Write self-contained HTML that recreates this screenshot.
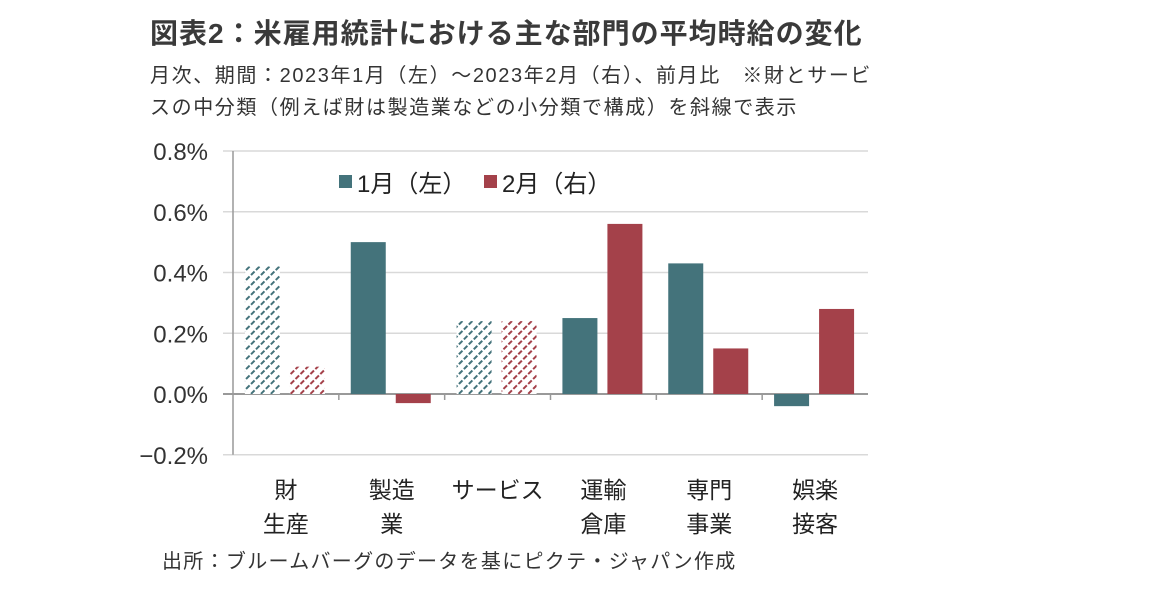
<!DOCTYPE html>
<html><head><meta charset="utf-8"><style>
body{margin:0;background:#fff;width:1152px;height:593px;overflow:hidden;font-family:"Liberation Sans","Noto Sans CJK JP",sans-serif;}
.t{position:absolute;white-space:nowrap;color:#333}
</style></head><body>
<div class="t" style="left:150px;top:12px;font-size:28px;font-weight:bold;color:#3a3a3a;letter-spacing:1px">図表2：米雇用統計における主な部門の平均時給の変化</div>
<div class="t" style="left:150px;top:60px;font-size:20px;line-height:32px;letter-spacing:1.6px">月次、期間：2023年1月（左）～2023年2月（右）、前月比　※財とサービ<br>スの中分類（例えば財は製造業などの小分類で構成）を斜線で表示</div>
<div class="t" style="left:162px;top:545px;font-size:20px;letter-spacing:1.3px">出所：ブルームバーグのデータを基にピクテ・ジャパン作成</div>
<svg id="c" width="1152" height="593" style="position:absolute;left:0;top:0">
<defs>
<pattern id="hT" width="7" height="7" patternUnits="userSpaceOnUse" patternTransform="rotate(45)"><rect width="7" height="7" fill="#fff"/><line x1="0" y1="0" x2="0" y2="7" stroke="#44737b" stroke-width="4" stroke-dasharray="3,2"/></pattern>
<pattern id="hR" width="7" height="7" patternUnits="userSpaceOnUse" patternTransform="rotate(45)"><rect width="7" height="7" fill="#fff"/><line x1="0" y1="0" x2="0" y2="7" stroke="#a4414a" stroke-width="4" stroke-dasharray="3,2"/></pattern>
</defs>
</svg>
<script>
const categories=[["財","生産"],["製造","業"],["サービス"],["運輸","倉庫"],["専門","事業"],["娯楽","接客"]];
const jan=[0.42,0.50,0.24,0.25,0.43,-0.04];
const feb=[0.09,-0.03,0.24,0.56,0.15,0.28];
const hatched=[true,false,true,false,false,false];
const ticks=[0.8,0.6,0.4,0.2,0.0,-0.2];
const tickLabels=["0.8%","0.6%","0.4%","0.2%","0.0%","−0.2%"];
const svg=document.getElementById('c');const NS='http://www.w3.org/2000/svg';
const x0=233,x1=868,cw=(x1-x0)/categories.length;
const y=v=>394-v*(394-151)/0.8;
function mk(t,a,p){const e=document.createElementNS(NS,t);for(const k in a)e.setAttribute(k,a[k]);(p||svg).appendChild(e);return e;}
ticks.forEach((v,i)=>{
 const g=mk('line',{x1:x0-10,x2:x1,y1:y(v),y2:y(v),stroke:v===0?'#999':'#d9d9d9','stroke-width':v===0?2:1.5});
 
 
 const t=mk('text',{x:208,y:y(v)+9,'text-anchor':'end','font-size':24,fill:'#333','font-family':'Liberation Sans, sans-serif'});t.textContent=tickLabels[i];
 
 
});
mk('line',{x1:x0,x2:x0,y1:y(0.8),y2:y(-0.2),stroke:'#999','stroke-width':1.5});
categories.forEach((c,i)=>{
 const cx=x0+cw*(i+0.5);
 if(i>0){mk('line',{x1:x0+cw*i,x2:x0+cw*i,y1:y(0),y2:y(0)+6,stroke:'#999','stroke-width':1.5});}
 [[jan[i],-40,hatched[i]?'url(#hT)':'#44737b'],[feb[i],5,hatched[i]?'url(#hR)':'#a4414a']].forEach(([v,dx,f],k)=>{
  const r=mk('rect',{x:cx+dx-1,y:Math.min(y(v),y(0)),width:35,height:Math.abs(y(v)-y(0)),fill:f});
  
  
 });
 c.forEach((s,j)=>{const t=mk('text',{x:cx,y:498+j*34,'text-anchor':'middle','font-size':23,fill:'#222','font-family':'Liberation Sans, Noto Sans CJK JP, sans-serif'});t.textContent=s;
  
  });
});
[[339,'#44737b','1月（左）'],[484,'#a4414a','2月（右）']].forEach(([lx,col,txt])=>{
 const g=mk('g',{});
 
 
 mk('rect',{x:lx,y:175,width:13,height:13,fill:col},g);
 const t=mk('text',{x:lx+18,y:192,'font-size':24,fill:'#222','font-family':'Liberation Sans, Noto Sans CJK JP, sans-serif'},g);t.textContent=txt;
});
</script>
</body></html>
